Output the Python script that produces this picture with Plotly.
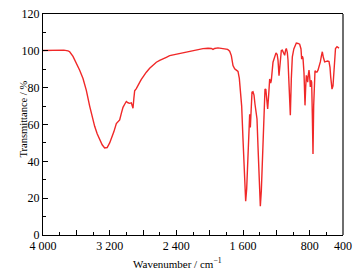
import plotly.graph_objects as go

wavenumber = [4000, 3950, 3900, 3850, 3800, 3750, 3700, 3680, 3640, 3600, 3560, 3520, 3480, 3440, 3400, 3380,
              3350, 3320, 3290, 3260, 3230, 3200, 3180, 3150, 3120, 3100, 3080, 3060, 3040, 3020, 3000, 2980,
              2960, 2940, 2930, 2920, 2910, 2900, 2880, 2860, 2840, 2820, 2800, 2760, 2720, 2680, 2640, 2600,
              2560, 2520, 2480, 2440, 2400, 2340, 2280, 2240, 2200, 2140, 2080, 2020, 1980, 1960, 1940, 1900,
              1860, 1820, 1784, 1760, 1740, 1720, 1700, 1680, 1660, 1644, 1632, 1616, 1600, 1584, 1568, 1556,
              1540, 1524, 1520, 1512, 1500, 1492, 1480, 1468, 1456, 1444, 1432, 1420, 1404, 1392, 1380, 1360,
              1348, 1336, 1326, 1316, 1304, 1292, 1280, 1268, 1260, 1240, 1220, 1204, 1190, 1180, 1168, 1156,
              1140, 1128, 1110, 1100, 1088, 1080, 1068, 1060, 1048, 1032, 1020, 1008, 990, 975, 960, 940,
              920, 904, 896, 888, 880, 868, 856, 848, 840, 832, 824, 816, 808, 800, 792, 784,
              776, 768, 760, 752, 744, 736, 724, 712, 700, 688, 672, 660, 648, 636, 620, 600,
              584, 568, 556, 548, 540, 532, 520, 510, 500, 490, 472, 460, 448]
transmittance = [100.2, 100.3, 100.2, 100.6, 100.5, 100.4, 100.0, 99.5, 97, 93.5, 89.5, 85, 78.5, 70, 62.5, 59,
                 55, 52, 49, 47.3, 47.5, 50, 52, 56, 60.5, 61.8, 62.5, 66, 69.3, 71, 72.5, 71.8,
                 71.5, 71.8, 70, 68.8, 74, 78.3, 79.5, 81.5, 82.9, 84.5, 86, 88.4, 90.5, 92.3, 93.8, 94.8,
                 95.5, 96.5, 97.4, 97.8, 98.3, 98.8, 99.3, 99.6, 100, 100.6, 101.2, 101.4, 101.3, 100.8, 101.3, 101.6,
                 101.3, 101, 100.8, 99.8, 97.4, 92, 90.2, 89.5, 88.8, 85, 80, 70, 52, 32, 18.3, 25,
                 46.5, 63, 65.6, 58.4, 72, 77.5, 77.8, 76, 71, 67, 63, 48, 25, 15.6, 24, 50,
                 68, 79.3, 79, 73, 68.4, 76, 84.7, 82.5, 84, 93.8, 97, 98.9, 98, 95, 86.5, 95,
                 100.2, 100.4, 98, 97.6, 100.5, 101.3, 99, 95, 82, 65, 85, 96.7, 101, 103.2, 104.2, 104,
                 103.6, 101, 95.5, 97, 96, 88, 70.4, 80, 86.7, 85.5, 83, 87, 89.5, 86, 80.4, 84,
                 83, 65, 44, 70, 88, 89.2, 88.5, 88.5, 89.5, 91, 94, 97, 99.5, 96.5, 94, 94.3,
                 94.5, 94.2, 91, 86, 80, 79.2, 81, 88, 98, 101.3, 102.2, 101.8, 101.5]

x_tickvals = [4000, 3600, 3200, 2800, 2400, 2000, 1600, 1200, 800, 400]
x_ticktext = ["4 000", " ", "3 200", " ", "2 400", " ", "1 600", " ", "800", "400"]
y_tickvals = [0, 20, 40, 60, 80, 100, 120]

font = "Liberation Serif"

fig = go.Figure()
fig.add_trace(go.Scatter(x=wavenumber, y=transmittance, mode="lines",
                         line=dict(color="rgb(240,40,40)", width=1.4), showlegend=False,
                         hoverinfo="skip"))

fig.update_layout(
    width=358, height=276,
    margin=dict(l=43, r=15, t=14, b=41, autoexpand=False),
    paper_bgcolor="white", plot_bgcolor="white",
    font=dict(family=font, size=12, color="black"),
    xaxis=dict(range=[4000, 400], tickvals=x_tickvals, ticktext=x_ticktext, automargin=False,
               ticklabeloverflow="allow",
               ticks="inside", ticklen=5, tickcolor="black", showgrid=False, zeroline=False,
               showline=True, linecolor="black", linewidth=1, mirror=True,
               minor=dict(dtick=200, ticks="inside", ticklen=3, tickcolor="black"),
               tickfont=dict(family=font, size=12)),
    yaxis=dict(range=[0, 120], tickvals=y_tickvals, ticks="inside", ticklen=5, tickcolor="black",
               showgrid=False, zeroline=False, showline=True, linecolor="black", linewidth=1,
               automargin=False, ticklabeloverflow="allow",
               minor=dict(dtick=10, ticks="inside", ticklen=3, tickcolor="black"),
               tickfont=dict(family=font, size=12)),
    shapes=[dict(type="line", xref="paper", yref="paper", x0=1, x1=1, y0=0, y1=1,
                 line=dict(color="rgb(110,110,110)", width=2))],
    annotations=[
        dict(text="Wavenumber / cm<sup>−1</sup>", xref="paper", yref="paper",
             x=0.447, y=-0.127, xanchor="center", yanchor="middle", showarrow=False,
             font=dict(family=font, size=11)),
        dict(text="Transmittance / %", xref="paper", yref="paper", textangle=-90,
             x=-0.065, y=0.525, xanchor="center", yanchor="middle", showarrow=False,
             font=dict(family=font, size=10.5)),
    ],
)

fig.write_html("out.html", config={"displayModeBar": False, "staticPlot": True},
               post_script="document.body.style.margin='0';document.body.style.overflow='hidden';")
